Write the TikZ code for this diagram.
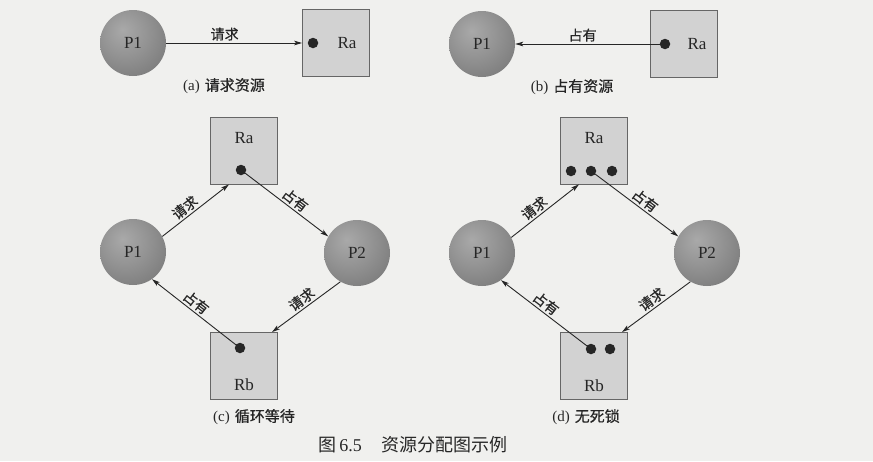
\documentclass[tikz,border=0pt]{standalone}
\usepackage{fontspec}
\setmainfont{Liberation Serif}
\newfontfamily\cjk{Noto Sans CJK SC}
\newfontfamily\cjkm[FakeBold=0.6]{Noto Sans CJK SC}
\usetikzlibrary{arrows.meta}

\definecolor{paper}{HTML}{F0F0EE}
\definecolor{ink}{HTML}{262626}
\definecolor{boxfill}{HTML}{D2D2D2}
\definecolor{boxline}{HTML}{666666}
\definecolor{sphA}{HTML}{A9A9A9}
\definecolor{sphB}{HTML}{939393}
\definecolor{sphC}{HTML}{767676}
\definecolor{sphD}{HTML}{565656}

% grey ball with the highlight up and to the left
\pgfdeclareradialshading{procball}{\pgfpoint{-8bp}{10bp}}{%
  color(0bp)=(sphA); color(18bp)=(sphB); color(40bp)=(sphC);
  color(62bp)=(sphD); color(90bp)=(sphD)}

\tikzset{
  proc/.style={circle, minimum size=66pt, inner sep=0pt, shading=procball,
    font=\fontsize{17}{17}\selectfont, text=ink},
  res/.style={rectangle, minimum size=67pt, inner sep=0pt, fill=boxfill,
    draw=boxline, line width=0.8pt},
  tok/.style={circle, fill=black!85, minimum size=10.5pt, inner sep=0pt},
  rname/.style={font=\fontsize{17}{17}\selectfont, text=ink},
  link/.style={draw=ink, line width=0.9pt,
    -{Stealth[length=8pt,width=4.6pt,inset=2pt]}},
  elabel/.style={font=\cjkm\fontsize{14}{14}\selectfont, text=ink, sloped,
    above, inner sep=2pt},
  subcap/.style={font=\fontsize{15}{15}\selectfont, text=ink},
}

\begin{document}
\begin{tikzpicture}[x=1pt, y=-1pt]
  \fill[paper] (0,0) rectangle (873,461);
  \useasboundingbox (0,0) rectangle (873,461);

  % (a) request
  \node[proc] (P1a) at (133,43) {P1};
  \node[res] (Raa) at (336,43) {};
  \node[tok] (ta) at (313,43) {};
  \node[rname] (Raa-l) at (347,43) {Ra};
  \draw[link] (P1a.east) -- (Raa.west)
    node[elabel, pos=0.43] {请求};
  \node[subcap] (capa) at (224,86) {(a)\hspace{5pt}{\cjkm 请求资源}};

  % (b) hold
  \node[proc] (P1b) at (482,44) {P1};
  \node[res] (Rab) at (684,44) {};
  \node[tok] (tb) at (665,44) {};
  \node[rname] (Rab-l) at (697,44) {Ra};
  \draw[link] (tb.center) -- (P1b.east)
    node[elabel, pos=0.55] {占有};
  \node[subcap] (capb) at (572,87) {(b)\hspace{5pt}{\cjkm 占有资源}};

  % (c) circular wait
  \node[proc] (P1c) at (133,252) {P1};
  \node[proc] (P2c) at (357,253) {P2};
  \node[res] (Rac) at (244,150.5) {};
  \node[rname] (Rac-l) at (244,138) {Ra};
  \node[tok] (tc1) at (241,170) {};
  \node[res] (Rbc) at (244,366) {};
  \node[rname] (Rbc-l) at (244,385) {Rb};
  \node[tok] (tc2) at (240,348) {};
  \draw[link] (P1c.28) -- ([xshift=-15pt]Rac.south)
    node[elabel, pos=0.42] {请求};
  \draw[link] (tc1.center) -- (P2c.150)
    node[elabel, pos=0.56] {占有};
  \draw[link] (P2c.-120) -- ([xshift=28pt]Rbc.north)
    node[elabel, pos=0.49] {请求};
  \draw[link] (tc2.center) -- (P1c.-55)
    node[elabel, pos=0.56] {占有};
  \node[subcap] (capc) at (254,417) {(c)\hspace{5pt}{\cjkm 循环等待}};

  % (d) no deadlock
  \node[proc] (P1d) at (482,253) {P1};
  \node[proc] (P2d) at (707,253) {P2};
  \node[res] (Rad) at (594,150.5) {};
  \node[rname] (Rad-l) at (594,138) {Ra};
  \node[tok] (td1) at (571,171) {};
  \node[tok] (td2) at (591,171) {};
  \node[tok] (td3) at (612,171) {};
  \node[res] (Rbd) at (594,366) {};
  \node[rname] (Rbd-l) at (594,386) {Rb};
  \node[tok] (td4) at (591,349) {};
  \node[tok] (td5) at (610,349) {};
  \draw[link] (P1d.28) -- ([xshift=-15pt]Rad.south)
    node[elabel, pos=0.42] {请求};
  \draw[link] (td2.center) -- (P2d.150)
    node[elabel, pos=0.56] {占有};
  \draw[link] (P2d.-120) -- ([xshift=28pt]Rbd.north)
    node[elabel, pos=0.49] {请求};
  \draw[link] (td4.center) -- (P1d.-55)
    node[elabel, pos=0.56] {占有};
  \node[subcap] (capd) at (586,417) {(d)\hspace{5pt}{\cjkm 无死锁}};

  % figure caption
  \node[font=\fontsize{18}{18}\selectfont, text=ink] (fig) at (413,445)
    {{\cjk 图}\,6.5\hspace{20pt}{\cjk 资源分配图示例}};
\end{tikzpicture}
\end{document}
